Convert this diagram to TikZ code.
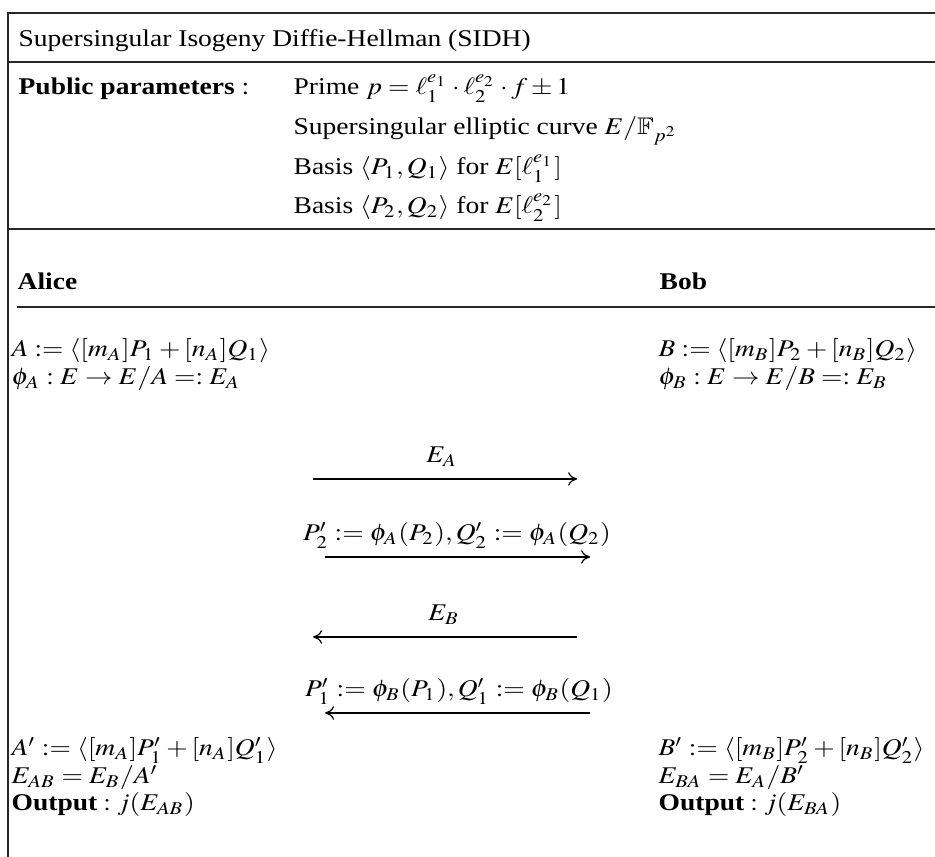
\documentclass[tikz,border=0pt]{standalone}
\usepackage{mathptmx}
\usepackage{amssymb}
\usepackage{fontspec}
\setmainfont{Liberation Serif}
\usetikzlibrary{arrows.meta, positioning}
\tikzset{
  rowtext/.style={anchor=base west, inner sep=0pt, font=\fontsize{8}{9.6}\selectfont},
  msglabel/.style={anchor=base, inner sep=0pt, font=\fontsize{8}{9.6}\selectfont},
  tablerule/.style={line width=0.45pt, color=black!85},
  msgarrow/.style={-{To[length=3pt, width=4.5pt]}, line width=0.4pt},
}

\begin{document}
\begin{tikzpicture}[xscale=1.146, x=0.29087pt, y=-0.3333pt, every node/.style={transform shape}]
  \useasboundingbox (0,0) rectangle (935,857);
  % frame and header rules
  \draw[tablerule] (8,857) -- (8,13) -- (935,13);
  \draw[tablerule] (8,62) -- (935,62);
  \draw[tablerule] (8,229) -- (935,229);
  \draw[tablerule] (17,307) -- (935,307);

  \node[rowtext] (title) at (18,47) {Supersingular Isogeny Diffie-Hellman (SIDH)};
  \node[rowtext] (pubpar) at (18,95) {\textbf{Public parameters} :};
  \node[rowtext] (prime) at (293,95) {Prime $p = \ell_1^{e_1}\cdot\ell_2^{e_2}\cdot f \pm 1$};
  \node[rowtext] (curve) at (293,135) {Supersingular elliptic curve $E/\mathbb{F}_{p^2}$};
  \node[rowtext] (basisA) at (293,175) {Basis $\langle P_1, Q_1\rangle$ for $E[\ell_1^{e_1}]$};
  \node[rowtext] (basisB) at (293,214) {Basis $\langle P_2, Q_2\rangle$ for $E[\ell_2^{e_2}]$};

  \node[rowtext] (alice) at (17,290) {\textbf{Alice}};
  \node[rowtext] (bob) at (659,290) {\textbf{Bob}};

  % secret kernels
  \node[rowtext] (kerA) at (11,357) {$A := \langle [m_A]P_1 + [n_A]Q_1\rangle$};
  \node[rowtext] (isoA) at (11,385) {$\phi_A : E \rightarrow E/A =: E_A$};
  \node[rowtext] (kerB) at (658,357) {$B := \langle [m_B]P_2 + [n_B]Q_2\rangle$};
  \node[rowtext] (isoB) at (658,385) {$\phi_B : E \rightarrow E/B =: E_B$};

  % messages
  \coordinate (m1s) at (313,479); \coordinate (m1e) at (577,479);
  \coordinate (m2s) at (325,557); \coordinate (m2e) at (590,557);
  \coordinate (m3s) at (577,637); \coordinate (m3e) at (313,637);
  \coordinate (m4s) at (590,713); \coordinate (m4e) at (325,713);
  \node[msglabel] (msg1) at (442,463) {$E_A$};
  \node[msglabel] (msg2) at (457,541) {$P_2' := \phi_A(P_2), Q_2' := \phi_A(Q_2)$};
  \node[msglabel] (msg3) at (444,621) {$E_B$};
  \node[msglabel] (msg4) at (459,697) {$P_1' := \phi_B(P_1), Q_1' := \phi_B(Q_1)$};
  \draw[msgarrow] (m1s) -- (m1e);
  \draw[msgarrow] (m2s) -- (m2e);
  \draw[msgarrow] (m3s) -- (m3e);
  \draw[msgarrow] (m4s) -- (m4e);

  % shared secret
  \node[rowtext] (kerA2) at (11,756) {$A' := \langle [m_A]P_1' + [n_A]Q_1'\rangle$};
  \node[rowtext] (curveAB) at (11,784) {$E_{AB} = E_B/A'$};
  \node[rowtext] (outA) at (11,811) {$\textbf{Output} : j(E_{AB})$};
  \node[rowtext] (kerB2) at (658,756) {$B' := \langle [m_B]P_2' + [n_B]Q_2'\rangle$};
  \node[rowtext] (curveBA) at (658,784) {$E_{BA} = E_A/B'$};
  \node[rowtext] (outB) at (658,811) {$\textbf{Output} : j(E_{BA})$};
\end{tikzpicture}
\end{document}
